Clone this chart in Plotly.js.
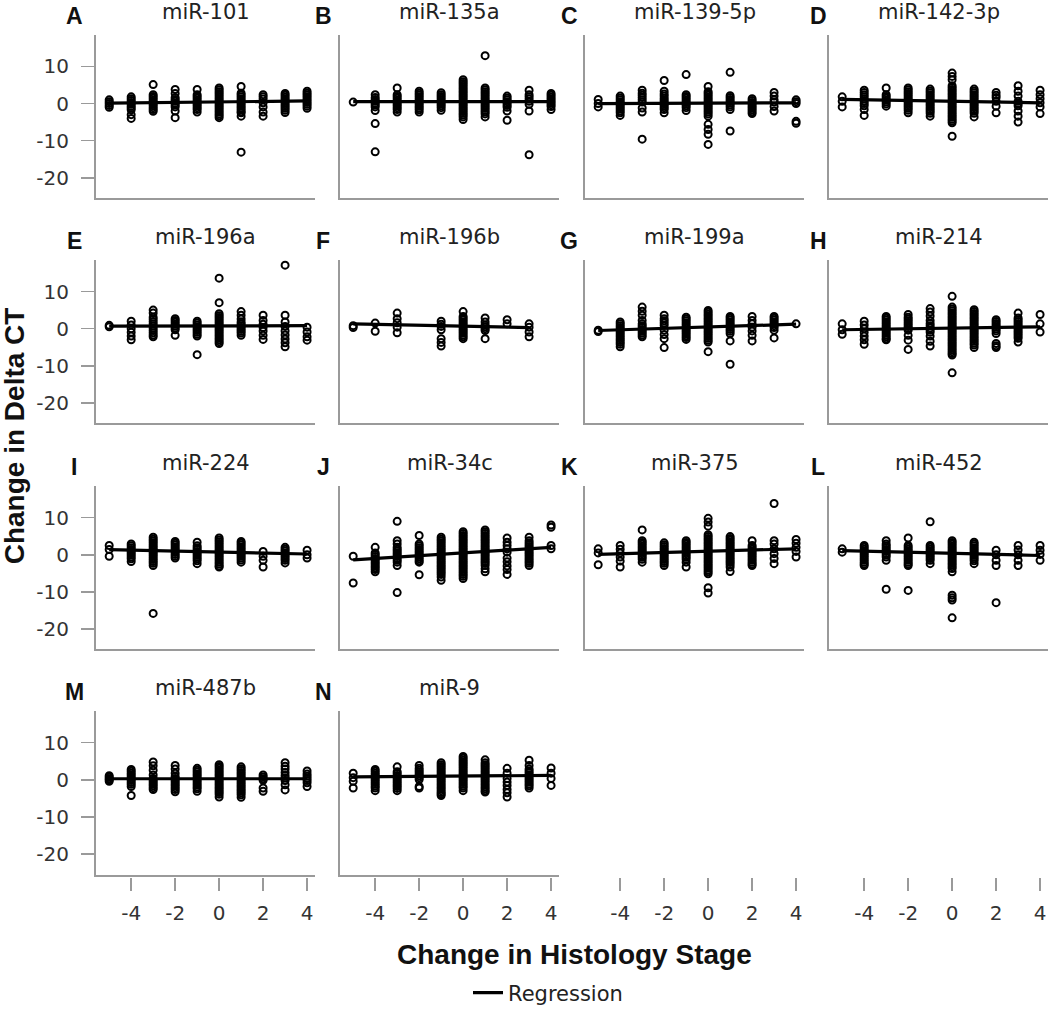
<!DOCTYPE html>
<html><head><meta charset="utf-8">
<script src="https://cdn.plot.ly/plotly-3.0.1.min.js"></script>
<style>html,body{margin:0;padding:0;background:#fff}#chart{width:1050px;height:1014px}</style>
</head><body><div id="chart"></div>
<script>
// ---------------- DATA ----------------
const stages = [-5, -4, -3, -2, -1, 0, 1, 2, 3, 4];
const panelNames = ["miR-101","miR-135a","miR-139-5p","miR-142-3p","miR-196a","miR-196b","miR-199a","miR-214","miR-224","miR-34c","miR-375","miR-452","miR-487b","miR-9"];
const panelLetters = ["A","B","C","D","E","F","G","H","I","J","K","L","M","N"];
const xTickVals = [-4, -2, 0, 2, 4];
const yTickVals = [-20, -10, 0, 10];

// Change in Delta CT per change in histology stage (one inner list per stage -5 .. 4)
const miR101 = [
  [1, 0.5, 0, -0.5, -1],
  [1.8, 1.3, 0.8, 0.3, -0.2, -0.7, -1.2, -1.7, -3, -4],
  [5.1, 2.4, 1.9, 1.4, 0.9, 0.4, -0.1, -0.6, -1.1, -1.6, -2.1],
  [3.8, 2.7, 1.6, 1.1, 0.6, 0.1, -0.4, -0.9, -2, -3.8],
  [3.8, 2.4, 1.9, 1.4, 0.9, 0.4, -0.1, -0.6, -1.1, -1.6, -2.3],
  [4.2, 3.7, 3.2, 2.7, 2.2, 1.7, 1.2, 0.7, 0.2, -0.3, -0.8, -1.3, -1.8, -2.3, -2.8, -3.3, -3.8],
  [4.6, 2.8, 2.3, 1.8, 1.3, 0.8, 0.3, -0.2, -0.7, -1.2, -1.7, -2.2, -2.5, -3.4, -13.1],
  [2.4, 1.8, 1.2, 0.2, -0.9, -2.3, -3.4],
  [2.7, 2.2, 1.7, 1.2, 0.7, 0.2, -0.3, -0.8, -1.3, -1.8, -2.4],
  [3.3, 2.8, 2.3, 1.8, 1.3, 0.8, 0.3, -0.2, -0.7, -1.3]
];
const miR135a = [
  [0.4],
  [2.4, 1.6, 1.1, 0.6, 0.1, -0.4, -0.9, -1.9, -5.4, -13],
  [4.2, 2.4, 1.9, 1.4, 0.9, 0.4, -0.1, -0.6, -1.1, -1.6, -2.3],
  [3.3, 2.8, 2.3, 1.8, 1.3, 0.8, 0.3, -0.2, -0.7, -1.2, -1.7, -2.3],
  [2.9, 2.4, 1.9, 1.4, 0.9, 0.4, -0.1, -0.6, -1.1, -1.8],
  [6.4, 5.9, 5.4, 4.9, 4.4, 3.9, 3.4, 2.9, 2.4, 1.9, 1.4, 0.9, 0.4, -0.1, -0.6, -1.1, -1.6, -2.1, -2.6, -3.1, -3.6, -4.3],
  [12.9, 4.2, 3.7, 3.2, 2.7, 2.2, 1.7, 1.2, 0.7, 0.2, -0.3, -0.8, -1.3, -1.8, -2.3, -2.8, -3.6],
  [2, 1.5, 1, 0.5, 0, -0.5, -1, -2, -4.5],
  [3.6, 2.4, 1.8, 1.2, 0.6, -0.2, -2, -13.8],
  [2.7, 2.2, 1.7, 1.2, 0.7, 0.2, -0.3, -0.8, -1.6]
];
const miR139_5p = [
  [1.1, 0, -0.9],
  [2, 1.5, 1, 0.5, 0, -0.5, -1, -1.5, -2, -2.5, -3.2],
  [3.6, 2.8, 2.2, 1.6, 1, 0.4, -1.2, -2.3, -9.6],
  [6.2, 3.3, 2.6, 2, 1.4, 0.9, 0.4, -0.1, -0.6, -1.1, -1.6, -2.5],
  [7.8, 2.4, 1.9, 1.4, 0.9, 0.4, -0.1, -0.6, -1.1, -1.9],
  [4.6, 3.2, 2.7, 2.2, 1.7, 1.2, 0.7, 0.2, -0.3, -0.8, -1.3, -1.8, -2.3, -2.8, -3.4, -5.6, -7, -8.3, -11],
  [8.4, 2.1, 1.6, 1.1, 0.6, 0.1, -0.4, -0.9, -1.6, -7.4],
  [1.3, 0.8, 0.3, -0.2, -0.7, -1.2, -1.7, -2.2, -2.7],
  [3, 2, 1, 0.4, -0.8, -2],
  [1, 0.5, 0, -4.8, -5.3]
];
const miR142_3p = [
  [1.8, 0.6, -0.9],
  [3.6, 3, 2.4, 1.8, 1.2, 0.6, 0, -0.6, -1.6, -3.2],
  [4.2, 2.4, 1.9, 1.4, 0.9, 0.4, -0.1, -0.7],
  [4.2, 3.7, 3.2, 2.7, 2.2, 1.7, 1.2, 0.7, 0.2, -0.3, -0.8, -1.3, -1.8, -2.5],
  [3.9, 3.4, 2.9, 2.4, 1.9, 1.4, 0.9, 0.4, -0.1, -0.6, -1.1, -1.6, -2.1, -2.6, -3.4],
  [8.2, 7.3, 6.4, 4.8, 4.3, 3.8, 3.3, 2.8, 2.3, 1.8, 1.3, 0.8, 0.3, -0.2, -0.7, -1.2, -1.7, -2.2, -2.7, -3.2, -3.7, -4.2, -4.7, -5.2, -8.8],
  [3.9, 3.4, 2.9, 2.4, 1.9, 1.4, 0.9, 0.4, -0.1, -0.6, -1.1, -1.6, -2.1, -2.6, -3.6],
  [3, 2.2, 1.6, 0.6, -0.7, -2.5],
  [4.8, 3.3, 2, 0.6, 0, -0.6, -2, -3.4, -5],
  [3.6, 2.4, 1.3, 0.2, -0.9, -2.7]
];
const miR196a = [
  [0.9, 0.5],
  [2, 1, 0, -1, -2, -3],
  [5, 4.2, 3.1, 2.5, 1.9, 1.3, 0.7, 0.1, -0.5, -1.1, -1.7, -2.2],
  [2.7, 2.2, 1.7, 1.2, 0.7, 0.2, -0.3, -1.8],
  [2, 1.5, 1, 0.5, 0, -0.5, -1, -1.5, -2, -7],
  [13.6, 7, 4, 3.5, 3, 2.5, 2, 1.5, 1, 0.5, 0, -0.5, -1, -1.5, -2, -2.5, -3, -3.5, -4],
  [4.6, 3.6, 2.6, 1.8, 1.3, 0.8, 0.3, -0.2, -0.7, -1.2, -1.8],
  [3.6, 2.2, 1.2, 0.3, -0.6, -1.8, -2.9],
  [17.1, 3.6, 1.8, 0.6, -0.6, -1.7, -2.8, -3.8, -4.9],
  [0.4, -0.9, -2.2, -3.1]
];
const miR196b = [
  [0.8, 0.3],
  [1.5, -0.7],
  [4.2, 2.7, 1.6, 0.4, -1.1],
  [],
  [2, 1.2, 0.6, -0.3, -2.7, -3.7, -4.7],
  [4.6, 3.3, 2.8, 2.3, 1.8, 1.3, 0.8, 0.3, -0.2, -0.7, -1.2, -1.7, -2.2, -2.7],
  [2.9, 1.8, 1, 0.5, 0, -0.5, -2.7],
  [2.4, 1.3],
  [1.3, 0.4, -0.9, -2.2],
  []
];
const miR199a = [
  [-0.4, -0.8],
  [1.8, 1.3, 0.8, 0.3, -0.2, -0.7, -1.2, -1.7, -2.2, -2.7, -3.2, -3.7, -4.2, -4.9],
  [5.8, 4.7, 3.6, 2.2, 1.3, 0.8, 0.3, -0.2, -0.7, -1.2, -1.7, -2.2],
  [3.6, 2.7, 2.1, 1.5, 0.9, -0.4, -1.6, -2.7, -5.1],
  [3.1, 2.6, 2.1, 1.6, 1.1, 0.6, 0.1, -0.4, -0.9, -1.4, -1.9, -2.4, -2.9],
  [4.9, 4.4, 3.9, 3.4, 2.9, 2.4, 1.9, 1.4, 0.9, 0.4, -0.1, -0.6, -1.1, -1.6, -2.1, -2.6, -3.1, -3.6, -6.2],
  [3.3, 2.8, 2.3, 1.8, 1.3, 0.8, 0.3, -0.2, -0.7, -1.3, -3.3, -9.6],
  [3.3, 2.2, 1.3, 0.4, -0.6, -1.8, -3.3],
  [3.3, 2.8, 2.3, 1.8, 1.3, 0.8, 0.3, -0.4, -2.5],
  [1.3]
];
const miR214 = [
  [1.3, -0.3, -1.5],
  [2, 1, 0, -1, -2, -3, -4.2],
  [3.3, 2.8, 2.3, 1.8, 1.3, 0.8, 0.3, -0.2, -0.7, -1.2, -1.7, -2.2, -2.7, -3],
  [3.8, 3.1, 2.6, 2.1, 1.6, 1.1, 0.6, 0.1, -0.4, -1.8, -3.1, -5.6],
  [5.4, 4.5, 3.4, 2.2, 1.4, 0.8, 0.2, -0.4, -1, -2, -3.4, -4.7],
  [8.7, 5.8, 5.3, 4.8, 4.3, 3.8, 3.3, 2.8, 2.3, 1.8, 1.3, 0.8, 0.3, -0.2, -0.7, -1.2, -1.7, -2.2, -2.7, -3.2, -3.7, -4.2, -4.7, -5.2, -5.7, -6.2, -6.7, -7.1, -11.9],
  [5.1, 4.6, 4.1, 3.6, 3.1, 2.6, 2.1, 1.6, 1.1, 0.6, 0.1, -0.4, -0.9, -1.4, -1.9, -2.4, -2.9, -3.4, -3.9, -4.4, -5.1],
  [2.4, 1.9, 1.4, 0.9, 0.4, -0.1, -0.6, -1.3, -4, -4.6, -5.1],
  [4.2, 2.9, 2.4, 1.9, 1.4, 0.9, 0.4, -0.1, -0.6, -1.1, -1.6, -2.1, -2.6, -3.6],
  [3.8, 1.3, -0.9]
];
const miR224 = [
  [2.5, 1.4, -0.4],
  [2.9, 2.4, 1.9, 1.4, 0.9, 0.4, -0.1, -0.6, -1.1, -1.8],
  [4.7, 4.2, 3.7, 3.2, 2.7, 2.2, 1.7, 1.2, 0.7, 0.2, -0.3, -0.8, -1.3, -1.8, -2.3, -2.9, -15.8],
  [3.6, 3.1, 2.6, 2.1, 1.6, 1.1, 0.6, 0.1, -0.4, -0.9],
  [3.4, 2.4, 1.9, 1.4, 0.9, 0.4, -0.1, -0.6, -1.1, -1.6, -2.4],
  [4.5, 4, 3.5, 3, 2.5, 2, 1.5, 1, 0.5, 0, -0.5, -1, -1.5, -2, -2.5, -3, -3.3],
  [3.6, 3.1, 2.6, 2.1, 1.6, 1.1, 0.6, 0.1, -0.4, -0.9, -1.4, -2],
  [0.9, -0.4, -1.5, -3.3],
  [2, 1.5, 1, 0.5, 0, -0.5, -1, -1.5, -2.2],
  [1.2, 0, -0.9]
];
const miR34c = [
  [-0.4, -7.6],
  [2, 0.5, 0, -0.5, -1, -1.5, -2, -2.5, -3, -3.5, -4, -4.6],
  [9, 3.8, 2.9, 2, 1.5, 1, 0.5, 0, -0.5, -1, -1.5, -2, -2.9, -10.2],
  [5.2, 2.9, 2.4, 1.9, 1.4, 0.9, 0.4, -0.1, -0.6, -1.1, -1.6, -2, -5.4],
  [4.7, 4.2, 3.7, 3.2, 2.7, 2.2, 1.7, 1.2, 0.7, 0.2, -0.3, -0.8, -1.3, -1.8, -2.3, -2.8, -3.3, -3.8, -4.3, -4.8, -5.3, -6, -6.9],
  [6.2, 5.7, 5.2, 4.7, 4.2, 3.7, 3.2, 2.7, 2.2, 1.7, 1.2, 0.7, 0.2, -0.3, -0.8, -1.3, -1.8, -2.3, -2.8, -3.3, -3.8, -4.3, -4.8, -5.3, -5.8, -6.4],
  [6.7, 6.2, 5.7, 5.2, 4.7, 4.2, 3.7, 3.2, 2.7, 2.2, 1.7, 1.2, 0.7, 0.2, -0.3, -0.8, -1.3, -1.8, -2.3, -2.9, -3.8, -4.6],
  [4.5, 3.4, 2.5, 1.6, 0.7, -0.9, -1.9, -3, -4, -5.3],
  [4.7, 3.8, 3.2, 2.7, 2.2, 1.7, 1.2, 0.7, 0.2, -0.3, -0.8, -1.3, -1.8, -2.3, -2.9],
  [8, 7.4, 2.5, 1.6]
];
const miR375 = [
  [1.6, 0.5, -2.7],
  [2.5, 1.5, 0.5, -0.6, -1.7, -3.3],
  [6.7, 3.8, 3.3, 2.8, 2.3, 1.8, 1.3, 0.8, 0.3, -0.2, -0.7, -1.2, -2],
  [3.2, 2.7, 2.2, 1.7, 1.2, 0.7, 0.2, -0.3, -0.8, -1.3, -1.8, -2.3, -2.9],
  [3.8, 3.3, 2.8, 2.3, 1.8, 1.3, 0.8, 0.3, -0.2, -0.7, -1.2, -2, -3.3],
  [9.8, 8.8, 7.7, 5.4, 4.9, 4.4, 3.9, 3.4, 2.9, 2.4, 1.9, 1.4, 0.9, 0.4, -0.1, -0.6, -1.1, -1.6, -2.1, -2.6, -3.1, -3.6, -4.1, -4.6, -5.1, -8.9, -10.3],
  [4.9, 4.4, 3.9, 3.4, 2.9, 2.4, 1.9, 1.4, 0.9, 0.4, -0.1, -0.6, -1.1, -1.6, -2.1, -2.6, -3.3, -4.5],
  [3.8, 2.5, 2, 1.5, 1, 0.5, 0, -0.5, -1, -1.5, -2, -2.5, -2.9],
  [13.8, 3.8, 2.9, 1.6, 0.3, -1, -2.4],
  [4.1, 3.1, 2, 0.9, -0.6]
];
const miR452 = [
  [1.6, 0.7],
  [2.5, 2, 1.5, 1, 0.5, 0, -0.5, -1, -1.5, -2, -2.5, -2.9],
  [3.8, 2.9, 2.4, 1.9, 1.4, 0.9, 0.4, -0.1, -0.6, -1.5, -9.3],
  [4.5, 2.5, 2, 1.5, 1, 0.5, 0, -0.5, -1, -1.5, -2, -2.5, -2.9, -9.6],
  [8.9, 2.5, 2, 1.5, 1, 0.5, 0, -0.5, -1, -1.5, -2.4],
  [3.8, 3.3, 2.8, 2.3, 1.8, 1.3, 0.8, 0.3, -0.2, -0.7, -1.2, -1.7, -2.2, -2.7, -3.2, -3.7, -4.6, -10.9, -11.6, -12.2, -17],
  [3.4, 2.9, 2.4, 1.9, 1.4, 0.9, 0.4, -0.1, -0.6, -1.1, -1.6, -2.4],
  [1.2, 0, -1.5, -2.9, -12.9],
  [2.5, 1.3, 0, -1.5, -2.9],
  [2.5, 1.2, 0.1, -1.5]
];
const miR487b = [
  [1.1, 0.7, 0.3, 0, -0.4],
  [2.8, 2.3, 1.8, 1.3, 0.8, 0.3, -0.2, -0.7, -1.2, -1.8, -4.2],
  [4.8, 3.8, 2.6, 1.3, 0.4, -0.1, -0.6, -1.1, -1.6, -2.1, -2.6],
  [3.9, 2.9, 1.8, 0.9, 0.4, -0.1, -0.6, -1.1, -1.6, -2.1, -2.6, -3.2],
  [3.1, 2.6, 2.1, 1.6, 1.1, 0.6, 0.1, -0.4, -0.9, -1.4, -1.9, -2.4, -3.1],
  [4.1, 3.6, 3.1, 2.6, 2.1, 1.6, 1.1, 0.6, 0.1, -0.4, -0.9, -1.4, -1.9, -2.4, -2.9, -3.4, -3.9, -4.6],
  [3.5, 3, 2.5, 2, 1.5, 1, 0.5, 0, -0.5, -1, -1.5, -2, -2.5, -3, -3.5, -4, -4.7],
  [1.3, 0.8, 0.3, -0.1, -2.2, -3.1],
  [4.6, 3.7, 2.9, 2, 1.2, 0.5, -0.2, -1.3, -2.7],
  [2.4, 1.6, 1, 0.4, -0.2, -0.8, -1.8]
];
const miR9 = [
  [1.8, 0.6, -0.4, -2.2],
  [2.8, 2.3, 1.8, 1.3, 0.8, 0.3, -0.2, -0.7, -1.2, -1.7, -2.2, -2.9],
  [3.5, 2.2, 1.7, 1.2, 0.7, 0.2, -0.3, -0.8, -1.3, -1.8, -2.3, -2.9],
  [3.9, 3.1, 2.6, 2.1, 1.6, 1.1, 0.6, 0.1, -1.8, -2.2],
  [4.6, 4.1, 3.6, 3.1, 2.6, 2.1, 1.6, 1.1, 0.6, 0.1, -0.4, -0.9, -1.4, -1.9, -2.4, -2.9, -3.4, -3.8, -4.2],
  [6.3, 5.8, 5.3, 4.8, 4.3, 3.8, 3.3, 2.8, 2.3, 1.8, 1.3, 0.8, 0.3, -0.2, -0.7, -1.2, -1.7, -2.2, -2.9],
  [5.4, 4.6, 4.1, 3.6, 3.1, 2.6, 2.1, 1.6, 1.1, 0.6, 0.1, -0.4, -0.9, -1.4, -1.9, -2.4, -2.9, -3.3],
  [3.1, 1.8, 0.4, -0.6, -1.5, -2.6, -3.5, -4.6],
  [5.3, 3.9, 2.9, 2.4, 1.9, 1.4, 0.9, 0.4, -0.1, -0.6, -1.1, -1.6, -2.2],
  [3.2, 1.8, 0.4, -1.5]
];
const panelData = [miR101, miR135a, miR139_5p, miR142_3p, miR196a, miR196b, miR199a, miR214, miR224, miR34c, miR375, miR452, miR487b, miR9];

// Regression line value at the lowest and highest observed stage of each panel
const regStart = [0.1, 0.5, 0.0, 1.1, 0.7, 1.3, -0.5, -0.3, 1.4, -1.4, 0.1, 1.1, 0.3, 0.8];
const regEnd   = [0.7, 0.5, 0.2, 0.2, 0.8, 0.3, 1.2, 0.5, 0.2, 2.0, 1.6, -0.2, 0.3, 1.2];

// ---------------- LAYOUT GEOMETRY (pixels) ----------------
const W = 1050, H = 1014;
const colLeft = [96, 340, 585, 829];
const colWidth = 219;
const rowTop = [35, 261, 488, 714];
const rowHeight = 164;
const letterX = [74, 323, 569, 818];
const xRange = [-5.6, 4.36];
const yRange = [-25.5, 18.5];
const axisGray = '#9a9a9a';
const normalFamily = 'DejaVu Sans, Liberation Sans, Arial, sans-serif';
const boldFamily = 'Liberation Sans, Arial, sans-serif';
const tickFont = {family: normalFamily, size: 20, color: '#333'};

const px = v => v / W;
const py = v => 1 - v / H;

const traces = [];
const layout = {
  width: W, height: H,
  margin: {l: 0, r: 0, t: 0, b: 0},
  paper_bgcolor: '#fff', plot_bgcolor: '#fff',
  showlegend: true,
  legend: {
    orientation: 'h', x: px(468), y: py(997), xanchor: 'left', yanchor: 'middle',
    font: {family: normalFamily, size: 21, color: '#222'},
    bgcolor: 'rgba(0,0,0,0)'
  },
  annotations: [],
  font: {family: normalFamily}
};

const scatterTraces = [], lineTraces = [];
panelData.forEach((cols, i) => {
  const c = i % 4, r = Math.floor(i / 4);
  const xs = [], ys = [];
  const present = [];
  cols.forEach((vals, k) => {
    if (vals.length) present.push(stages[k]);
    vals.forEach(v => { xs.push(stages[k]); ys.push(v); });
  });
  const xa = i === 0 ? 'x' : 'x' + (i + 1);
  const ya = i === 0 ? 'y' : 'y' + (i + 1);
  scatterTraces.push({
    type: 'scatter', mode: 'markers', x: xs, y: ys, xaxis: xa, yaxis: ya,
    showlegend: false, hoverinfo: 'skip', cliponaxis: false,
    marker: {symbol: 'circle-open', size: 7, color: '#000', line: {width: 2, color: '#000'}}
  });
  const xMin = Math.min(...present), xMax = Math.max(...present);
  lineTraces.push({
    type: 'scatter', mode: 'lines', x: [xMin, xMax], y: [regStart[i], regEnd[i]],
    xaxis: xa, yaxis: ya, name: 'Regression', showlegend: i === 0, hoverinfo: 'skip',
    line: {color: '#000', width: 3.2}
  });
  const xKey = i === 0 ? 'xaxis' : 'xaxis' + (i + 1);
  const yKey = i === 0 ? 'yaxis' : 'yaxis' + (i + 1);
  layout[xKey] = {
    domain: [px(colLeft[c]), px(colLeft[c] + colWidth)], anchor: ya,
    range: xRange, showgrid: false, zeroline: false,
    showline: true, linecolor: axisGray, linewidth: 2,
    ticks: '', showticklabels: false, fixedrange: true
  };
  layout[yKey] = {
    domain: [py(rowTop[r] + rowHeight), py(rowTop[r])], anchor: xa,
    range: yRange, showgrid: false, zeroline: false,
    showline: true, linecolor: axisGray, linewidth: 2,
    tickvals: yTickVals, ticktext: yTickVals.map(String),
    ticks: c === 0 ? 'outside' : '', ticklen: 13, tickwidth: 1.5, tickcolor: axisGray,
    showticklabels: c === 0, tickfont: tickFont, ticklabelstandoff: 8, fixedrange: true
  };
  // panel title
  layout.annotations.push({
    text: panelNames[i], xref: 'paper', yref: 'paper',
    x: px(colLeft[c] + colWidth / 2), y: py(rowTop[r] - 23),
    xanchor: 'center', yanchor: 'middle', showarrow: false,
    font: {family: normalFamily, size: 21, color: '#222'}
  });
  // panel letter
  layout.annotations.push({
    text: '<b>' + panelLetters[i] + '</b>', xref: 'paper', yref: 'paper',
    x: px(letterX[c]), y: py(rowTop[r] - 19),
    xanchor: 'center', yanchor: 'middle', showarrow: false,
    font: {family: boldFamily, size: 23, color: '#111'}
  });
});

// shared x tick axes under each column
for (let c = 0; c < 4; c++) {
  const n = 15 + c;
  const top = rowTop[3] + rowHeight + 1;
  layout['xaxis' + n] = {
    domain: [px(colLeft[c]), px(colLeft[c] + colWidth)], anchor: 'y' + n,
    range: xRange, showgrid: false, zeroline: false, showline: false,
    tickvals: xTickVals, ticktext: xTickVals.map(String),
    ticks: 'outside', ticklen: 13, tickwidth: 1.5, tickcolor: axisGray,
    tickfont: tickFont, ticklabelstandoff: 5, fixedrange: true
  };
  layout['yaxis' + n] = {
    domain: [py(top + 1), py(top)], anchor: 'x' + n, visible: false, range: [0, 1], fixedrange: true
  };
  traces.push({type: 'scatter', mode: 'markers', x: [], y: [], xaxis: 'x' + n, yaxis: 'y' + n, showlegend: false, hoverinfo: 'skip'});
}

// overall axis titles
layout.annotations.push({
  text: '<b>Change in Histology Stage</b>', xref: 'paper', yref: 'paper',
  x: px(574), y: py(958), xanchor: 'center', yanchor: 'middle', showarrow: false,
  font: {family: boldFamily, size: 28, color: '#111'}
});
layout.annotations.push({
  text: '<b>Change in Delta CT</b>', xref: 'paper', yref: 'paper',
  x: px(14), y: py(438), xanchor: 'center', yanchor: 'middle', showarrow: false, textangle: -90,
  font: {family: boldFamily, size: 28, color: '#111'}
});

Plotly.newPlot('chart', scatterTraces.concat(lineTraces, traces), layout, {staticPlot: true, displayModeBar: false});
</script>
</body></html>
